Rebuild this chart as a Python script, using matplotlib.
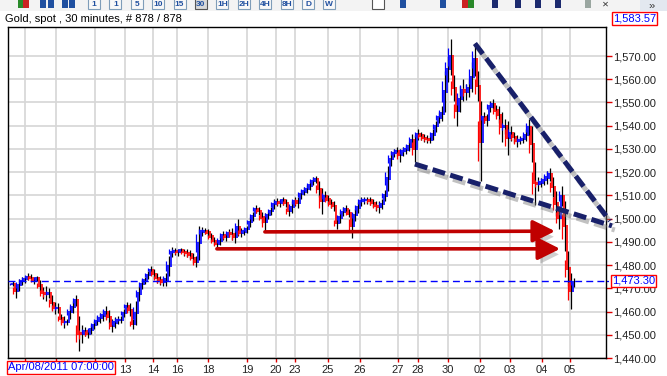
import numpy as np
import matplotlib
matplotlib.use('Agg')
import matplotlib.pyplot as plt
import matplotlib.patches as mpatches
import matplotlib.patheffects as pe
from matplotlib.ticker import FixedLocator, FuncFormatter

# ==== Data (30 min bars, resampled) ====
highs = [1473, 1472, 1474, 1475, 1475.5, 1476.5, 1476, 1475, 1475.5, 1473.5,
         1470.5, 1471, 1470, 1467, 1464, 1463.5, 1459, 1458, 1457, 1462.5,
         1464.5, 1467, 1458, 1454, 1453.5, 1452.5, 1454, 1456, 1458, 1459.5,
         1460.5, 1462.5, 1460.5, 1457, 1457.5, 1458, 1458, 1461, 1464, 1463.5,
         1457, 1464.5, 1471, 1474, 1475, 1477.5, 1479.5, 1478.5, 1476.5, 1475.5,
         1475, 1476.5, 1484, 1488, 1487.5, 1487, 1487.5, 1487, 1487, 1486.5,
         1485, 1484, 1497, 1496.5, 1496, 1495.5, 1494, 1492, 1490.5, 1492.5,
         1494.5, 1494, 1495.5, 1496, 1494.5, 1500, 1496, 1496, 1497, 1500.5,
         1503, 1506, 1505, 1503, 1502.5, 1503, 1505, 1508.5, 1509, 1508.5,
         1509.5, 1508.5, 1505.5, 1507.5, 1509.5, 1509.5, 1512.5, 1513.5, 1514.5, 1516,
         1518, 1518.5, 1516, 1513, 1512, 1510, 1508.5, 1507.5, 1501, 1503,
         1505, 1506, 1504, 1502.5, 1504, 1507, 1509.5, 1509.5, 1509.5, 1509.5,
         1508.5, 1507.5, 1507.5, 1508.5, 1512.5, 1522.5, 1529, 1530, 1531, 1530,
         1531, 1531.5, 1533, 1536.5, 1536, 1538.5, 1537.5, 1536.5, 1536, 1535.5,
         1538.5, 1542, 1546, 1548.5, 1563.5, 1570, 1577.5, 1562, 1552.5, 1557,
         1560, 1558, 1560, 1567.5, 1575.5, 1563.5, 1550.5, 1546, 1545, 1550.5,
         1551.5, 1549, 1548.5, 1546, 1543, 1542, 1540, 1537.5, 1536, 1535.5,
         1536, 1538.5, 1543, 1540, 1524.5, 1518, 1517.5, 1518.5, 1520.5, 1522,
         1518, 1512, 1505.5, 1514, 1507.5, 1486, 1476.5, 1474.5]
lows = [1471, 1466, 1469, 1471.5, 1472.5, 1473.5, 1473, 1472, 1473, 1469,
        1465.5, 1464.5, 1466, 1460.5, 1459, 1459.5, 1455, 1453, 1454, 1457,
        1459.5, 1462.5, 1443, 1446.5, 1449.5, 1448.5, 1450.5, 1452.5, 1454, 1455,
        1456, 1457, 1455, 1451, 1453, 1454.5, 1455, 1457.5, 1460.5, 1458,
        1452.5, 1454, 1464.5, 1469.5, 1472, 1474, 1476.5, 1474, 1472.5, 1471.5,
        1471, 1471, 1475.5, 1483.5, 1484.5, 1484, 1485, 1484, 1483.5, 1482.5,
        1481, 1479, 1482, 1492.5, 1493.5, 1492.5, 1490.5, 1488.5, 1487.5, 1488.5,
        1491, 1490.5, 1492, 1491, 1489.5, 1492.5, 1492, 1493, 1494, 1496.5,
        1499, 1502.5, 1501.5, 1498, 1494.5, 1500, 1501.5, 1504, 1505.5, 1505,
        1506, 1505, 1501, 1502.5, 1505.5, 1504.5, 1508.5, 1510, 1511, 1512.5,
        1514.5, 1515.5, 1509.5, 1502, 1507.5, 1506.5, 1504.5, 1503.5, 1495.5, 1498,
        1501, 1502.5, 1500.5, 1491.5, 1499, 1502.5, 1505.5, 1506.5, 1506.5, 1506,
        1505, 1503.5, 1502.5, 1504, 1507.5, 1512, 1522.5, 1526.5, 1527, 1524.5,
        1527, 1528, 1529, 1531, 1524.5, 1534, 1534, 1533, 1532.5, 1532.5,
        1534, 1537.5, 1541, 1542, 1546, 1559, 1562, 1550.5, 1540, 1546,
        1550.5, 1551, 1552.5, 1554.5, 1561.5, 1550.5, 1516, 1541, 1540, 1546,
        1547, 1544, 1541, 1533, 1536.5, 1527.5, 1533.5, 1532.5, 1531, 1532,
        1532.5, 1533.5, 1535.5, 1524.5, 1506, 1512, 1513.5, 1514.5, 1515, 1516,
        1509.5, 1501, 1495.5, 1505.5, 1486, 1471, 1461, 1470.5]

last_price = 1473.30
max_price = 1583.57
start_label = 'Apr/08/2011 07:00:00'
title = 'Gold, spot , 30 minutes, # 878 / 878'
timeframes = ['1', '1', '5', '10', '15', '30', '1H', '2H', '4H', '8H', 'D', 'W']

# date separators (bar index) and their labels
date_pos = [4.3, 14.7, 27.7, 37.7, 47, 55, 65.3, 78.3, 88, 94.3, 105.3, 116,
            128.7, 135.3, 145.3, 156, 166, 176.7, 186]
date_lab = ['', '', '', '13', '14', '16', '18', '19', '20', '23', '25', '26',
            '27', '28', '30', '02', '03', '04', '05']
price_ticks = list(range(1440, 1580, 10))

# hand-drawn annotations: (bar index, price)
wedge_upper = [(154.3, 1575.4), (199.3, 1499.0)]
wedge_lower = [(134.3, 1523.5), (200.0, 1496.9)]
arrow_top = [(84.3, 1494.3), (181.0, 1494.6)]
arrow_bottom = [(68.3, 1487.0), (182.7, 1487.0)]

# ==== Style ====
BLUE = '#0000FF'
RED = '#FF0000'
NAVY = '#18206a'
ARROW_RED = '#C00000'
TICK_RED = '#E00000'
GRID = '#D6D6D6'
plt.rcParams['font.family'] = ['Liberation Sans', 'DejaVu Sans']

fig = plt.figure(figsize=(6.67, 3.76), dpi=100, facecolor='white')
W, H = 667, 376

def fx(px):
    return px / W

def fy(py):
    return 1 - py / H

# ==== Toolbar (cut off at the top of the screenshot) ====
fig.patches.append(mpatches.Rectangle((0, fy(11)), 1, 11 / H, transform=fig.transFigure,
                                      facecolor='#F3F3F3', edgecolor='none', zorder=0))
fig.patches.append(mpatches.Rectangle((fx(640), fy(11)), fx(27), 11 / H, transform=fig.transFigure,
                                      facecolor='#E3E8F0', edgecolor='none', zorder=0))
for i, tf in enumerate(timeframes):
    left = 88 + i * 21.4
    pressed = tf == '30'
    fig.patches.append(mpatches.Rectangle((fx(left), fy(9)), fx(12), 12 / H, transform=fig.transFigure,
                                          facecolor='#D8D8D8' if pressed else '#F8F8F8',
                                          edgecolor='#555555' if pressed else '#7F9DB9', lw=0.8, zorder=1))
    fig.text(fx(left + 6), fy(4), tf, fontsize=6, color='#2050A0', ha='center', va='center',
             fontweight='bold', zorder=2)
fig.patches.append(mpatches.Rectangle((fx(372), fy(9)), fx(12), 12 / H, transform=fig.transFigure,
                                      facecolor='white', edgecolor='#555555', lw=0.8, zorder=1))
# a few icon blobs
for px, c in [(18, '#2a8a2a'), (23, '#cc2222'), (40, '#2050A0'), (48, '#2050A0'),
              (62, '#2050A0'), (69, '#2050A0'), (400, '#2050A0'), (440, '#2050A0'),
              (462, '#cc2222'), (468, '#2a8a2a'), (492, '#1c2a6e'), (515, '#1c2a6e'),
              (535, '#1c2a6e'), (555, '#1c2a6e'), (585, '#9aa6a0')]:
    fig.patches.append(mpatches.Rectangle((fx(px), fy(8)), fx(6), 8 / H, transform=fig.transFigure,
                                          facecolor=c, edgecolor='none', zorder=1))
fig.text(fx(605), fy(5), '\u2715', fontsize=6, color='#333333', ha='center', va='center')
fig.text(fx(652), fy(5.5), '\u00bb', fontsize=8, color='#333333', ha='center', va='center')

fig.text(fx(5), fy(19), title, fontsize=8, color='#000000', va='center', ha='left')

# ==== Price chart ====
ax = fig.add_axes([fx(8), fy(358), fx(606) - fx(8), (358 - 27) / H])
ax.set_facecolor('white')

x = np.arange(len(highs))
hi = np.array(highs)
lo = np.array(lows)
mid = (hi + lo) / 2
prev = np.r_[mid[0], mid[:-1]]
cols = np.where(mid >= prev, BLUE, RED)

ax.vlines(x + 0.4, lo, hi, colors='black', lw=0.9, zorder=3)
ax.vlines(x - 0.1, np.minimum(prev, mid) - 0.5, np.maximum(prev, mid) + 0.5, colors=cols, lw=1.2, zorder=4)
ax.vlines(x - 0.6, lo + (hi - lo) * 0.25, hi - (hi - lo) * 0.25, colors=cols, lw=0.9, zorder=4)

ax.set_xlim(-1.33, 198)
ax.set_ylim(1440, 1582.5)

ax.xaxis.set_major_locator(FixedLocator(date_pos))
ax.set_xticklabels(date_lab)
ax.yaxis.set_major_locator(FixedLocator(price_ticks))
ax.yaxis.set_major_formatter(FuncFormatter(lambda v, p: f'{v:,.2f}'))
ax.yaxis.tick_right()
ax.grid(True, color=GRID, lw=1.2)
ax.set_axisbelow(True)
ax.tick_params(axis='y', colors=TICK_RED, labelcolor='#222222', labelsize=8, length=4, width=1, pad=1)
ax.tick_params(axis='x', colors=TICK_RED, labelcolor='#222222', labelsize=8, length=3, width=1, pad=2)
for s in ax.spines.values():
    s.set_color('black')
    s.set_linewidth(1)

# current price line
ax.axhline(last_price, color=BLUE, lw=1, ls=(0, (5, 3)), zorder=5)
ax.plot([198, 201], [last_price, last_price], color=BLUE, lw=0.9, ls=(0, (2, 2)), clip_on=False)
ax.text(1.01, last_price, f'{last_price:,.2f}', transform=ax.get_yaxis_transform(),
        fontsize=8, color=BLUE, va='center', ha='left', zorder=10,
        bbox=dict(boxstyle='square,pad=0.1', facecolor='white', edgecolor=RED, lw=1))
fig.text(fx(613), fy(18.5), f'{max_price:,.2f}', fontsize=8, color=BLUE, va='center', ha='left',
         bbox=dict(boxstyle='square,pad=0.1', facecolor='white', edgecolor=RED, lw=1))
fig.text(fx(8), fy(367.5), start_label, fontsize=8, color=BLUE, va='center', ha='left',
         bbox=dict(boxstyle='square,pad=0.12', facecolor='white', edgecolor=RED, lw=1), zorder=10)

# wedge lines
shadow = [pe.SimpleLineShadow(offset=(2, -3), shadow_color='#777777', alpha=0.45), pe.Normal()]
for seg in (wedge_upper, wedge_lower):
    xs, ys = zip(*seg)
    ax.plot(xs, ys, color=NAVY, lw=3.6, ls=(0, (2.6, 1.1)), solid_capstyle='butt',
            clip_on=False, zorder=8, path_effects=shadow)

# red arrows
for seg in (arrow_top, arrow_bottom):
    (x0, y0), (x1, y1) = seg
    ax.annotate('', xy=(x1, y1), xytext=(x0, y0), zorder=8,
                arrowprops=dict(arrowstyle='-|>,head_length=0.9,head_width=0.45',
                                color=ARROW_RED, lw=2.6, mutation_scale=15, shrinkA=0, shrinkB=0,
                                path_effects=[pe.SimplePatchShadow(offset=(2, -4), shadow_rgbFace='#777777', alpha=0.35),
                                              pe.Normal()]))

fig.savefig('out.png', dpi=100, facecolor='white')
